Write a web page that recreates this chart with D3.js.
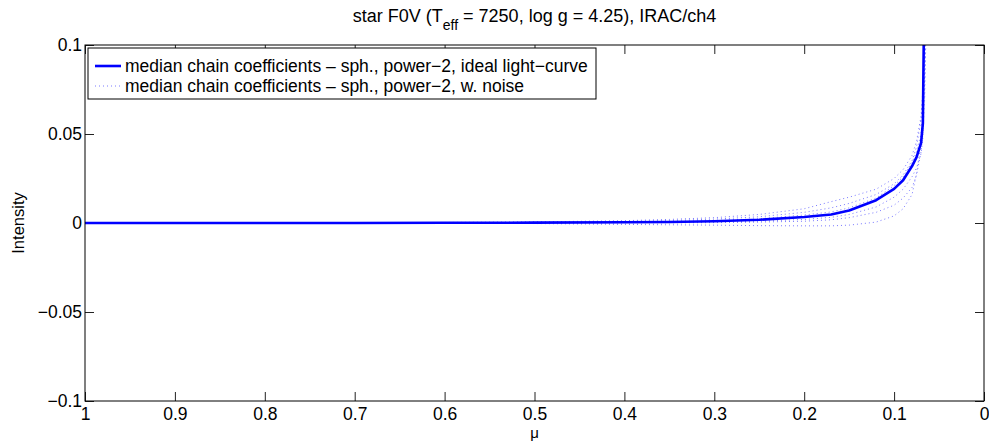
<!DOCTYPE html>
<html>
<head>
<meta charset="utf-8">
<script src="https://cdn.jsdelivr.net/npm/d3@7"></script>
<style>
  body { margin: 0; background: #fff; }
  svg text { font-family: "Liberation Sans", Arial, sans-serif; fill: #000; }
</style>
</head>
<body>
<svg id="chart" width="989" height="445"></svg>
<script>
// mu sample points shared by every curve
const muGrid = [1, 0.9, 0.8, 0.7, 0.6, 0.5, 0.4, 0.35, 0.3, 0.25, 0.2, 0.17, 0.15, 0.12, 0.1, 0.09, 0.08, 0.075, 0.07, 0.068, 0.066, 0.064];

// median chain, ideal light curve
const idealValues = [0, 0, 0, 0, 0.0001, 0.0002, 0.0004, 0.0006, 0.001, 0.0018, 0.0034, 0.0048, 0.007, 0.0128, 0.0192, 0.024, 0.032, 0.037, 0.045, 0.056, 0.15, 0.3];

// median chain, with noise (several runs)
const noiseA = [0, 0, 0, 0.0001, 0.0003, 0.0006, 0.0013, 0.002, 0.003, 0.0048, 0.008, 0.012, 0.0145, 0.019, 0.025, 0.03, 0.038, 0.046, 0.06, 0.075, 0.11, 0.25];
const noiseB = [0, 0, 0, 0.0001, 0.0002, 0.0004, 0.0009, 0.0014, 0.0022, 0.0035, 0.006, 0.0085, 0.011, 0.016, 0.022, 0.027, 0.035, 0.043, 0.058, 0.072, 0.105, 0.22];
const noiseC = [0, 0, 0, 0, 0.0001, 0.0003, 0.0006, 0.0009, 0.0014, 0.0024, 0.0045, 0.0062, 0.0085, 0.014, 0.021, 0.026, 0.034, 0.04, 0.05, 0.062, 0.12, 0.25];
const noiseD = [0, 0, 0, 0, 0, 0.0001, 0.0002, 0.0003, 0.0005, 0.001, 0.002, 0.0032, 0.0048, 0.009, 0.0145, 0.019, 0.026, 0.031, 0.039, 0.048, 0.09, 0.2];
const noiseE = [0, 0, 0, 0, 0, 0, 0.0001, 0.0001, 0.0002, 0.0005, 0.001, 0.0018, 0.003, 0.006, 0.01, 0.014, 0.02, 0.027, 0.04, 0.05, 0.07, 0.12];
const noiseF = [0, 0, 0, 0, -0.0001, -0.0003, -0.0008, -0.001, -0.0012, -0.0015, -0.0016, -0.0016, -0.0012, 0.0005, 0.004, 0.008, 0.016, 0.028, 0.045, 0.06, 0.08, 0.12];
const noiseSeries = [noiseA, noiseB, noiseC, noiseD, noiseE, noiseF];

const xTicks = [1, 0.9, 0.8, 0.7, 0.6, 0.5, 0.4, 0.3, 0.2, 0.1, 0];
const yTicks = [-0.1, -0.05, 0, 0.05, 0.1];

const legendLabels = [
  "median chain coefficients \u2013 sph., power\u22122, ideal light\u2212curve",
  "median chain coefficients \u2013 sph., power\u22122, w. noise"
];

const margin = { top: 45, right: 5, bottom: 44, left: 85 };
const svgWidth = 989, svgHeight = 445;
const width = svgWidth - margin.left - margin.right;
const height = svgHeight - margin.top - margin.bottom;

const svg = d3.select("#chart");
const g = svg.append("g").attr("transform", `translate(${margin.left},${margin.top})`);

const x = d3.scaleLinear().domain([1, 0]).range([0, width]);
const y = d3.scaleLinear().domain([-0.1, 0.1]).range([height, 0]);

const fmt = v => (v < 0 ? "\u2212" : "") + String(Math.abs(v));

svg.append("defs").append("clipPath").attr("id", "plotclip")
  .append("rect").attr("width", width).attr("height", height);

// axes with inward ticks, mirrored on top/right
const tickLen = 9;
g.append("g").attr("transform", `translate(0,${height})`)
  .call(d3.axisBottom(x).tickValues(xTicks).tickSizeInner(-tickLen).tickSizeOuter(0).tickPadding(7).tickFormat(fmt))
  .call(a => a.select(".domain").remove());
g.append("g")
  .call(d3.axisTop(x).tickValues(xTicks).tickSizeInner(-tickLen).tickSizeOuter(0).tickFormat(""))
  .call(a => a.select(".domain").remove());
g.append("g")
  .call(d3.axisLeft(y).tickValues(yTicks).tickSizeInner(-tickLen).tickSizeOuter(0).tickPadding(3).tickFormat(fmt))
  .call(a => a.select(".domain").remove());
g.append("g").attr("transform", `translate(${width},0)`)
  .call(d3.axisRight(y).tickValues(yTicks).tickSizeInner(-tickLen).tickSizeOuter(0).tickFormat(""))
  .call(a => a.select(".domain").remove());

g.selectAll(".tick line").attr("stroke", "#222");
g.selectAll(".tick text").attr("font-size", 17.5).attr("font-family", "Liberation Sans, Arial, sans-serif");

const line = d3.line()
  .x((d, i) => x(muGrid[i]))
  .y(d => y(d));

const plot = g.append("g").attr("clip-path", "url(#plotclip)");

noiseSeries.forEach(s => {
  plot.append("path")
    .datum(s)
    .attr("fill", "none")
    .attr("stroke", "#7a7aff")
    .attr("stroke-width", 1)
    .attr("stroke-dasharray", "1,3")
    .attr("d", line);
});

plot.append("path")
  .datum(idealValues)
  .attr("fill", "none")
  .attr("stroke", "#0000ff")
  .attr("stroke-width", 2.6)
  .attr("stroke-linejoin", "round")
  .attr("d", line);

// plot box
g.append("rect")
  .attr("width", width).attr("height", height)
  .attr("fill", "none").attr("stroke", "#000").attr("stroke-width", 1);

// legend
const leg = g.append("g").attr("transform", "translate(3,3)");
leg.append("rect")
  .attr("width", 508).attr("height", 51)
  .attr("fill", "#fff").attr("stroke", "#000").attr("stroke-width", 1);
legendLabels.forEach((lab, i) => {
  const ly = 18 + i * 20;
  leg.append("line")
    .attr("x1", 7).attr("x2", 33).attr("y1", ly).attr("y2", ly)
    .attr("stroke", i === 0 ? "#0000ff" : "#7a7aff")
    .attr("stroke-width", i === 0 ? 2.6 : 1)
    .attr("stroke-dasharray", i === 0 ? null : "1,3");
  leg.append("text")
    .attr("x", 37).attr("y", ly).attr("dy", "0.35em")
    .attr("font-size", 17.5)
    .text(lab);
});

// title
const title = svg.append("text")
  .attr("x", margin.left + width / 2).attr("y", 22)
  .attr("text-anchor", "middle").attr("font-size", 18);
title.append("tspan").text("star F0V (T");
title.append("tspan").attr("font-size", 14).attr("dy", 8).text("eff");
title.append("tspan").attr("dy", -8).text(" = 7250, log g = 4.25), IRAC/ch4");

// axis labels
svg.append("text")
  .attr("x", margin.left + width / 2).attr("y", 438)
  .attr("text-anchor", "middle").attr("font-size", 15)
  .text("\u03bc");
svg.append("text")
  .attr("transform", `translate(24,${margin.top + height / 2}) rotate(-90)`)
  .attr("text-anchor", "middle").attr("font-size", 16.5)
  .text("Intensity");
</script>
</body>
</html>
